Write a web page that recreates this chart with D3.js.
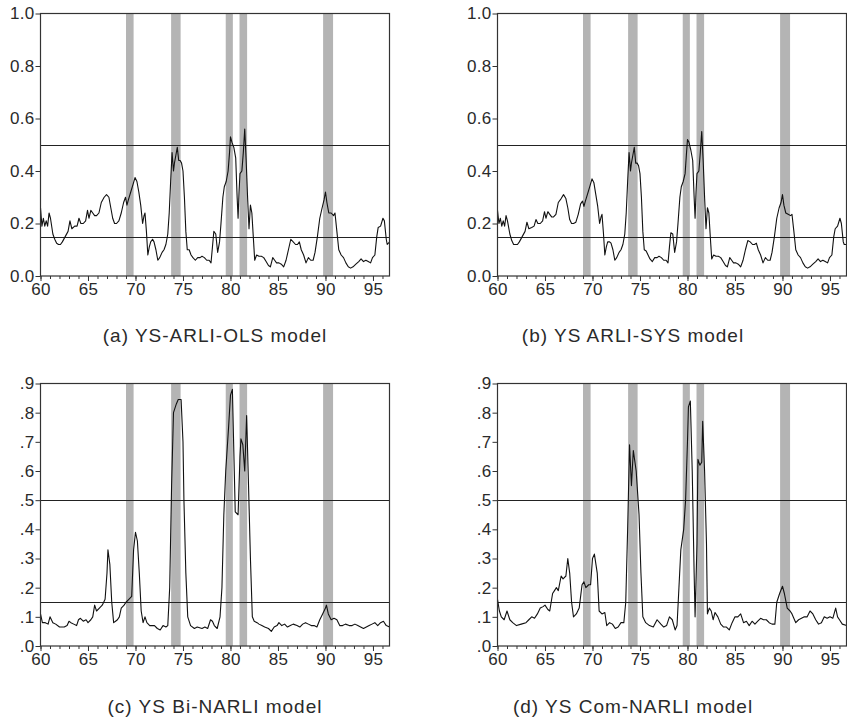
<!DOCTYPE html>
<html>
<head>
<meta charset="utf-8">
<script src="https://cdn.jsdelivr.net/npm/d3@7"></script>
<style>
  html, body { margin: 0; padding: 0; background: #fff; }
  svg { display: block; font-family: "Liberation Sans", Arial, sans-serif; }
</style>
</head>
<body>
<div id="chart"></div>
<script>
// recession bands (shaded), in axis years
const recessions = [[69.0, 69.8], [73.75, 74.75], [79.5, 80.25], [80.95, 81.75], [89.75, 90.8]];

// horizontal reference lines
const thresholds = [0.5, 0.15];

// x axis ticks
const xMajorTicks = [60, 65, 70, 75, 80, 85, 90, 95];
const xMinorTicks = d3.range(60, 97);

// y axis ticks per panel row
const yTicksTop = [0, 0.2, 0.4, 0.6, 0.8, 1.0];
const yTicksBottom = [0, 0.1, 0.2, 0.3, 0.4, 0.5, 0.6, 0.7, 0.8, 0.9];

const captions = [
  "(a) YS-ARLI-OLS model",
  "(b) YS ARLI-SYS model",
  "(c) YS Bi-NARLI model",
  "(d) YS Com-NARLI model"
];

// probability series, [year, value]
const ysOls = [
  [60.0,0.26],[60.15,0.19],[60.3,0.22],[60.45,0.19],[60.6,0.21],[60.75,0.19],[60.9,0.24],[61.05,0.22],
  [61.3,0.16],[61.5,0.14],[61.7,0.125],[61.9,0.12],[62.1,0.12],[62.3,0.13],[62.6,0.15],[62.9,0.17],
  [63.1,0.21],[63.3,0.18],[63.6,0.19],[63.85,0.19],[64.05,0.22],[64.25,0.2],[64.5,0.2],[64.75,0.21],
  [64.95,0.25],[65.1,0.22],[65.3,0.25],[65.5,0.24],[65.7,0.23],[65.9,0.23],[66.15,0.24],[66.4,0.28],
  [66.7,0.3],[66.95,0.31],[67.2,0.3],[67.4,0.26],[67.6,0.22],[67.8,0.2],[68.0,0.2],[68.25,0.21],
  [68.5,0.24],[68.75,0.28],[68.95,0.3],[69.1,0.27],[69.25,0.29],[69.5,0.32],[69.75,0.35],[69.95,0.375],
  [70.15,0.36],[70.35,0.32],[70.55,0.27],[70.75,0.2],[70.9,0.23],[71.0,0.24],[71.15,0.17],[71.3,0.08],
  [71.45,0.11],[71.6,0.13],[71.8,0.14],[71.95,0.13],[72.15,0.1],[72.35,0.06],[72.55,0.07],[72.8,0.09],
  [73.0,0.1],[73.2,0.12],[73.4,0.16],[73.55,0.24],[73.7,0.36],[73.85,0.47],[74.0,0.4],[74.1,0.43],
  [74.25,0.46],[74.4,0.49],[74.55,0.44],[74.7,0.44],[74.85,0.43],[75.0,0.4],[75.15,0.3],[75.3,0.17],
  [75.45,0.1],[75.65,0.1],[75.85,0.08],[76.05,0.07],[76.3,0.06],[76.55,0.07],[76.8,0.07],[77.0,0.075],
  [77.25,0.07],[77.5,0.06],[77.75,0.06],[77.95,0.05],[78.1,0.11],[78.25,0.17],[78.45,0.16],[78.65,0.09],
  [78.85,0.13],[79.0,0.2],[79.2,0.3],[79.35,0.34],[79.55,0.36],[79.75,0.4],[79.9,0.47],[80.0,0.53],
  [80.15,0.51],[80.35,0.49],[80.55,0.45],[80.7,0.3],[80.8,0.22],[80.9,0.32],[81.0,0.39],[81.2,0.4],
  [81.35,0.47],[81.5,0.56],[81.65,0.44],[81.8,0.3],[81.95,0.18],[82.1,0.27],[82.25,0.24],[82.4,0.15],
  [82.55,0.06],[82.75,0.08],[83.0,0.075],[83.25,0.075],[83.5,0.07],[83.75,0.055],[84.0,0.04],[84.2,0.035],
  [84.45,0.07],[84.65,0.06],[84.85,0.05],[85.1,0.05],[85.35,0.045],[85.6,0.035],[85.85,0.06],[86.1,0.1],
  [86.35,0.14],[86.6,0.13],[86.85,0.12],[87.05,0.12],[87.25,0.13],[87.45,0.1],[87.7,0.08],[87.95,0.05],
  [88.2,0.07],[88.45,0.06],[88.7,0.06],[88.9,0.09],[89.15,0.15],[89.4,0.22],[89.65,0.26],[89.85,0.29],
  [90.0,0.32],[90.15,0.28],[90.35,0.24],[90.6,0.24],[90.85,0.23],[91.0,0.24],[91.2,0.17],[91.4,0.1],
  [91.65,0.08],[91.9,0.07],[92.15,0.05],[92.4,0.035],[92.65,0.03],[92.9,0.035],[93.2,0.045],[93.5,0.055],
  [93.75,0.065],[94.0,0.055],[94.25,0.06],[94.5,0.055],[94.75,0.05],[94.95,0.07],[95.2,0.08],[95.4,0.15],
  [95.55,0.185],[95.8,0.19],[96.05,0.22],[96.2,0.21],[96.4,0.14],[96.5,0.12],[96.75,0.13]
];

const ysSys = [
  [60.0,0.25],[60.15,0.2],[60.3,0.22],[60.45,0.19],[60.6,0.21],[60.75,0.19],[60.9,0.23],[61.05,0.21],
  [61.3,0.16],[61.5,0.135],[61.7,0.12],[61.9,0.12],[62.1,0.12],[62.3,0.13],[62.6,0.15],[62.9,0.17],
  [63.1,0.205],[63.3,0.18],[63.6,0.185],[63.85,0.19],[64.05,0.215],[64.25,0.2],[64.5,0.2],[64.75,0.21],
  [64.95,0.245],[65.1,0.22],[65.3,0.245],[65.5,0.235],[65.7,0.225],[65.9,0.225],[66.15,0.235],[66.4,0.28],
  [66.7,0.295],[66.95,0.31],[67.2,0.295],[67.4,0.26],[67.6,0.215],[67.8,0.2],[68.0,0.2],[68.25,0.205],
  [68.5,0.235],[68.75,0.275],[68.95,0.285],[69.1,0.265],[69.25,0.285],[69.5,0.315],[69.75,0.345],[69.95,0.37],
  [70.15,0.355],[70.35,0.31],[70.55,0.265],[70.75,0.2],[70.9,0.225],[71.0,0.235],[71.15,0.165],[71.3,0.08],
  [71.45,0.11],[71.6,0.13],[71.8,0.13],[71.95,0.125],[72.15,0.1],[72.35,0.06],[72.55,0.07],[72.8,0.09],
  [73.0,0.1],[73.2,0.12],[73.4,0.16],[73.55,0.24],[73.7,0.36],[73.85,0.47],[74.0,0.4],[74.1,0.43],
  [74.25,0.46],[74.4,0.49],[74.55,0.43],[74.7,0.43],[74.85,0.42],[75.0,0.39],[75.15,0.3],[75.3,0.17],
  [75.45,0.1],[75.65,0.095],[75.85,0.08],[76.05,0.065],[76.3,0.055],[76.55,0.07],[76.8,0.07],[77.0,0.075],
  [77.25,0.07],[77.5,0.06],[77.75,0.06],[77.95,0.05],[78.1,0.11],[78.25,0.165],[78.45,0.16],[78.65,0.09],
  [78.85,0.13],[79.0,0.2],[79.2,0.3],[79.35,0.34],[79.55,0.36],[79.75,0.39],[79.9,0.47],[80.0,0.52],
  [80.15,0.51],[80.35,0.48],[80.55,0.44],[80.7,0.3],[80.8,0.22],[80.9,0.32],[81.0,0.39],[81.2,0.4],
  [81.35,0.47],[81.5,0.55],[81.65,0.44],[81.8,0.3],[81.95,0.18],[82.1,0.26],[82.25,0.24],[82.4,0.15],
  [82.55,0.065],[82.75,0.08],[83.0,0.075],[83.25,0.075],[83.5,0.07],[83.75,0.055],[84.0,0.04],[84.2,0.035],
  [84.45,0.07],[84.65,0.06],[84.85,0.05],[85.1,0.05],[85.35,0.045],[85.6,0.035],[85.85,0.06],[86.1,0.1],
  [86.35,0.135],[86.6,0.13],[86.85,0.12],[87.05,0.12],[87.25,0.125],[87.45,0.1],[87.7,0.08],[87.95,0.05],
  [88.2,0.07],[88.45,0.06],[88.7,0.06],[88.9,0.09],[89.15,0.15],[89.4,0.22],[89.65,0.26],[89.85,0.28],
  [90.0,0.31],[90.15,0.27],[90.35,0.24],[90.6,0.235],[90.85,0.23],[91.0,0.235],[91.2,0.17],[91.4,0.1],
  [91.65,0.08],[91.9,0.07],[92.15,0.05],[92.4,0.035],[92.65,0.03],[92.9,0.035],[93.2,0.045],[93.5,0.055],
  [93.75,0.065],[94.0,0.055],[94.25,0.06],[94.5,0.055],[94.75,0.05],[94.95,0.07],[95.2,0.08],[95.4,0.15],
  [95.55,0.18],[95.8,0.19],[96.05,0.22],[96.2,0.2],[96.4,0.13],[96.5,0.12],[96.75,0.12]
];

const ysBi = [
  [60.0,0.11],[60.2,0.08],[60.5,0.08],[60.8,0.075],[61.0,0.1],[61.3,0.08],[61.6,0.075],[62.0,0.065],
  [62.5,0.065],[62.8,0.07],[63.0,0.085],[63.2,0.08],[63.5,0.075],[63.8,0.07],[64.0,0.09],[64.2,0.095],
  [64.5,0.085],[64.8,0.09],[65.0,0.08],[65.3,0.09],[65.5,0.1],[65.7,0.14],[65.9,0.12],[66.2,0.13],
  [66.5,0.14],[66.8,0.16],[67.0,0.25],[67.1,0.33],[67.3,0.28],[67.5,0.15],[67.7,0.08],[67.9,0.085],
  [68.1,0.09],[68.3,0.1],[68.5,0.13],[68.8,0.14],[69.0,0.15],[69.3,0.16],[69.6,0.17],[69.8,0.33],
  [70.0,0.39],[70.2,0.36],[70.4,0.25],[70.6,0.12],[70.8,0.08],[71.0,0.1],[71.2,0.08],[71.5,0.07],
  [72.0,0.07],[72.3,0.06],[72.6,0.055],[72.9,0.07],[73.2,0.065],[73.4,0.07],[73.6,0.2],[73.8,0.55],
  [74.0,0.8],[74.3,0.83],[74.5,0.845],[74.8,0.845],[75.0,0.7],[75.1,0.5],[75.3,0.25],[75.5,0.1],
  [75.8,0.07],[76.2,0.06],[76.5,0.065],[77.0,0.06],[77.3,0.065],[77.6,0.06],[77.9,0.09],[78.1,0.085],
  [78.3,0.07],[78.6,0.06],[78.9,0.1],[79.1,0.2],[79.3,0.45],[79.5,0.6],[79.8,0.75],[80.0,0.86],
  [80.2,0.88],[80.4,0.6],[80.5,0.46],[80.8,0.45],[81.0,0.65],[81.1,0.71],[81.3,0.69],[81.5,0.6],
  [81.7,0.79],[81.9,0.55],[82.1,0.3],[82.3,0.1],[82.5,0.085],[82.8,0.08],[83.0,0.075],[83.3,0.07],
  [83.6,0.065],[84.0,0.06],[84.3,0.05],[84.6,0.065],[84.9,0.07],[85.1,0.08],[85.4,0.07],[85.7,0.075],
  [86.0,0.065],[86.3,0.07],[86.6,0.075],[87.0,0.07],[87.3,0.065],[87.6,0.075],[87.9,0.08],[88.2,0.075],
  [88.5,0.07],[88.8,0.07],[89.1,0.065],[89.4,0.09],[89.7,0.11],[90.0,0.13],[90.1,0.14],[90.3,0.11],
  [90.6,0.09],[90.9,0.095],[91.2,0.09],[91.5,0.07],[91.8,0.07],[92.1,0.075],[92.5,0.07],[92.8,0.07],
  [93.1,0.075],[93.4,0.07],[93.7,0.065],[94.0,0.06],[94.3,0.065],[94.6,0.07],[94.9,0.075],[95.2,0.08],
  [95.5,0.07],[95.8,0.08],[96.1,0.085],[96.4,0.07],[96.75,0.065]
];

const ysCom = [
  [60.0,0.16],[60.2,0.12],[60.4,0.1],[60.7,0.09],[61.0,0.12],[61.3,0.09],[61.6,0.08],[62.0,0.07],
  [62.5,0.075],[63.0,0.08],[63.3,0.09],[63.6,0.1],[63.9,0.095],[64.2,0.11],[64.5,0.13],[64.8,0.135],
  [65.0,0.14],[65.3,0.125],[65.5,0.12],[65.8,0.18],[66.0,0.19],[66.2,0.2],[66.4,0.19],[66.7,0.24],
  [66.9,0.23],[67.2,0.24],[67.4,0.3],[67.6,0.25],[67.8,0.15],[68.0,0.1],[68.3,0.11],[68.6,0.13],
  [68.9,0.21],[69.1,0.22],[69.3,0.2],[69.6,0.21],[69.8,0.21],[70.0,0.3],[70.2,0.315],[70.5,0.25],
  [70.7,0.12],[71.0,0.11],[71.3,0.115],[71.5,0.07],[71.8,0.08],[72.1,0.075],[72.4,0.06],[72.7,0.065],
  [73.0,0.08],[73.3,0.08],[73.5,0.15],[73.7,0.4],[73.9,0.69],[74.1,0.55],[74.3,0.67],[74.6,0.6],
  [74.9,0.45],[75.1,0.25],[75.3,0.1],[75.6,0.08],[76.0,0.07],[76.4,0.065],[76.8,0.09],[77.2,0.075],
  [77.5,0.065],[77.8,0.07],[78.1,0.1],[78.4,0.09],[78.7,0.055],[78.9,0.07],[79.1,0.2],[79.3,0.33],
  [79.6,0.4],[79.8,0.5],[80.0,0.7],[80.1,0.82],[80.3,0.84],[80.5,0.6],[80.7,0.25],[80.8,0.1],
  [81.0,0.35],[81.1,0.64],[81.3,0.62],[81.5,0.63],[81.6,0.77],[81.8,0.6],[82.0,0.35],[82.1,0.11],
  [82.3,0.13],[82.5,0.12],[82.7,0.09],[82.9,0.115],[83.2,0.1],[83.5,0.075],[83.8,0.065],[84.1,0.065],
  [84.4,0.055],[84.7,0.08],[85.0,0.1],[85.3,0.1],[85.6,0.11],[85.9,0.08],[86.2,0.085],[86.5,0.07],
  [86.8,0.085],[87.1,0.075],[87.4,0.085],[87.7,0.095],[88.0,0.09],[88.3,0.09],[88.6,0.08],[88.9,0.075],
  [89.2,0.075],[89.4,0.15],[89.7,0.18],[90.0,0.205],[90.2,0.18],[90.5,0.13],[90.8,0.12],[91.0,0.11],
  [91.4,0.08],[91.7,0.09],[92.0,0.095],[92.3,0.1],[92.6,0.1],[92.9,0.12],[93.2,0.11],[93.5,0.09],
  [93.8,0.075],[94.1,0.08],[94.4,0.1],[94.7,0.095],[95.0,0.1],[95.3,0.095],[95.6,0.13],[95.8,0.1],
  [96.0,0.09],[96.3,0.075],[96.75,0.07]
];

const width = 847;
const height = 720;
const tickFont = "17px";

const svg = d3.select("#chart").append("svg")
  .attr("width", width)
  .attr("height", height)
  .attr("viewBox", [0, 0, width, height]);

// panel frames (left, top) – same plot size for all four
const plotW = 349;
const plotH = 262.5;
const noLeadZero = v => d3.format(".1f")(v).replace(/^0/, "");
const panels = [
  { left: 40.5, top: 13.5, series: ysOls, yMax: 1.0, yTicks: yTicksTop, fmt: d3.format(".1f") },
  { left: 497.5, top: 13.5, series: ysSys, yMax: 1.0, yTicks: yTicksTop, fmt: d3.format(".1f") },
  { left: 40.5, top: 383.5, series: ysBi, yMax: 0.9, yTicks: yTicksBottom, fmt: noLeadZero },
  { left: 497.5, top: 383.5, series: ysCom, yMax: 0.9, yTicks: yTicksBottom, fmt: noLeadZero }
];
const captionPos = [[215, 342], [633, 342], [215, 713], [633, 713]];

panels.forEach((p, i) => drawPanel(p, captions[i], captionPos[i]));

function styleText(sel) {
  sel.attr("fill", "#2a2a2a")
    .style("font-size", tickFont)
    .style("letter-spacing", "0.3px")
    .style("font-family", "'Liberation Sans', Arial, sans-serif");
}

function drawPanel(p, caption, capPos) {
  const x = d3.scaleLinear()
    .domain([60, 96.74])
    .range([p.left, p.left + plotW]);

  const y = d3.scaleLinear()
    .domain([0, p.yMax])
    .range([p.top + plotH, p.top]);

  const g = svg.append("g");

  // shaded recessions
  g.selectAll("rect.rec")
    .data(recessions)
    .join("rect")
    .attr("class", "rec")
    .attr("x", d => x(d[0]))
    .attr("width", d => x(d[1]) - x(d[0]))
    .attr("y", y(p.yMax))
    .attr("height", y(0) - y(p.yMax))
    .attr("fill", "#b4b4b4");

  // reference lines
  g.selectAll("line.thr")
    .data(thresholds)
    .join("line")
    .attr("class", "thr")
    .attr("x1", x(60))
    .attr("x2", x(96.74))
    .attr("y1", d => Math.round(y(d)) + 0.5)
    .attr("y2", d => Math.round(y(d)) + 0.5)
    .attr("stroke", "#222")
    .attr("stroke-width", 1);

  // series
  const line = d3.line()
    .x(d => x(d[0]))
    .y(d => y(d[1]));

  g.append("path")
    .datum(p.series)
    .attr("fill", "none")
    .attr("stroke", "#111")
    .attr("stroke-width", 1.1)
    .attr("stroke-linejoin", "round")
    .attr("d", line);

  // frame
  g.append("rect")
    .attr("x", x(60))
    .attr("y", y(p.yMax))
    .attr("width", plotW)
    .attr("height", y(0) - y(p.yMax))
    .attr("fill", "none")
    .attr("stroke", "#333")
    .attr("stroke-width", 1.2);

  // x axis: minor ticks every year, long ticks + labels every 5
  g.append("g")
    .attr("transform", `translate(0,${y(0)})`)
    .call(d3.axisBottom(x).tickValues(xMinorTicks).tickSize(3).tickFormat(""))
    .call(a => a.select(".domain").remove());

  g.append("g")
    .attr("transform", `translate(0,${y(0)})`)
    .call(d3.axisBottom(x).tickValues(xMajorTicks).tickSize(5).tickPadding(2).tickFormat(d3.format("d")))
    .call(a => a.select(".domain").remove())
    .call(a => a.selectAll("text").call(styleText));

  g.selectAll(".tick line").attr("stroke", "#333");

  // y axis
  g.append("g")
    .attr("transform", `translate(${x(60)},0)`)
    .call(d3.axisLeft(y).tickValues(p.yTicks).tickSize(5).tickPadding(1).tickFormat(p.fmt))
    .call(a => a.select(".domain").remove())
    .call(a => a.selectAll(".tick line").attr("stroke", "#333"))
    .call(a => a.selectAll("text").call(styleText));

  // caption
  svg.append("text")
    .attr("x", capPos[0])
    .attr("y", capPos[1])
    .attr("text-anchor", "middle")
    .attr("fill", "#2a2a2a")
    .style("font-size", "19px")
    .style("letter-spacing", "1px")
    .text(caption);
}
</script>
</body>
</html>
